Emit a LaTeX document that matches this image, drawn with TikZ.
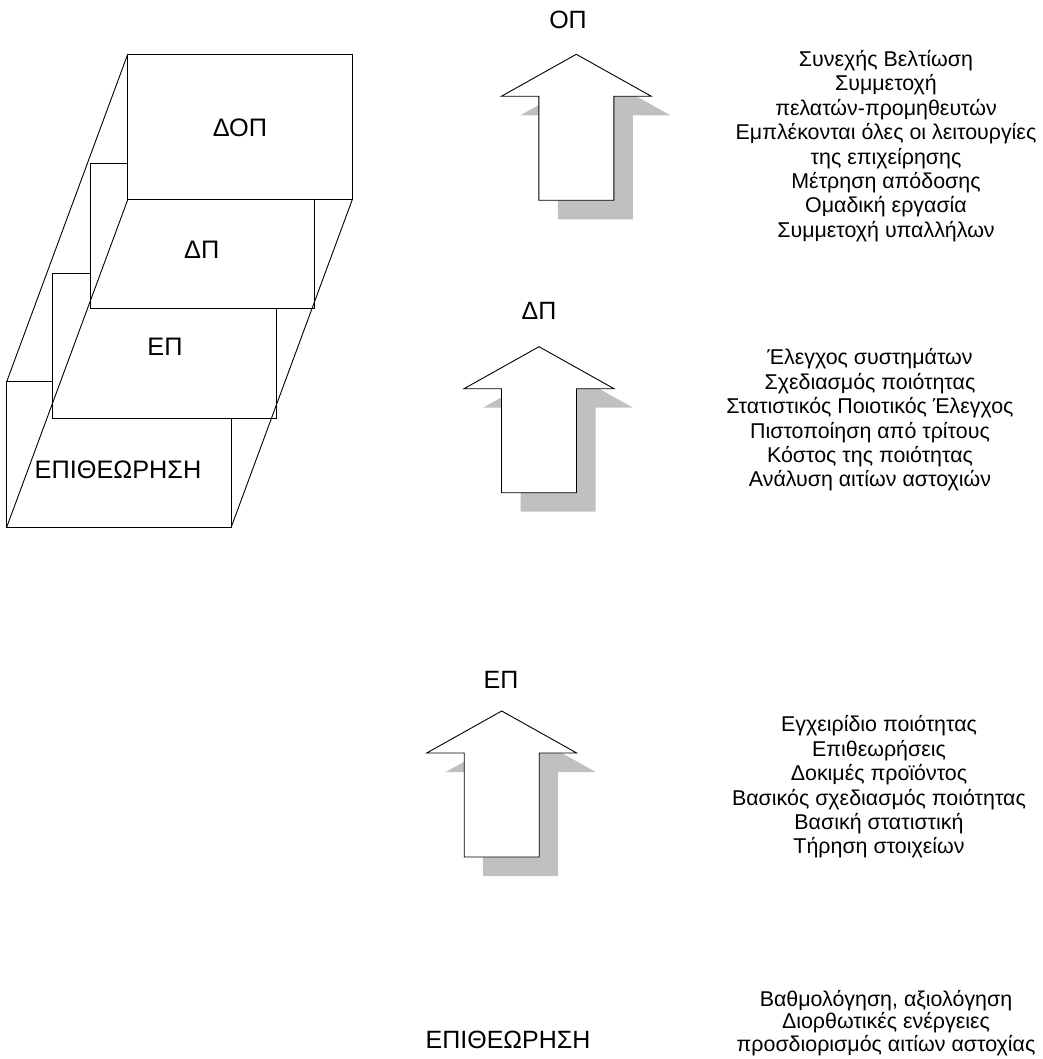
\documentclass[tikz,border=0pt]{standalone}
\usepackage{fontspec}
\setmainfont{Liberation Sans}
\definecolor{shadowgray}{RGB}{192,192,192}
\tikzset{
  level/.style={draw=black, fill=white, line width=0.9pt, minimum width=224.5pt,
    minimum height=145.5pt, inner sep=0pt, outer sep=0pt, anchor=north west},
  boxlabel/.style={font=\fontsize{25.3}{29}\selectfont},
  arrowlabel/.style={font=\fontsize{25}{29}\selectfont},
  listtext/.style={align=center, font=\fontsize{21.4}{24.4}\selectfont, inner sep=0pt},
  edge/.style={line width=0.9pt},
  pics/uparrow/.style={code={
    % gray drop shadow, shifted down and to the right
    \fill[shadowgray] (19,19) -- (94,61) -- (56.5,61) -- (56.5,165) -- (-18.5,165)
      -- (-18.5,61) -- (-56,61) -- cycle;
    % white block arrow pointing up
    \draw[fill=white, line width=0.9pt, line join=miter] (0,0) -- (75,42) -- (37.5,42)
      -- (37.5,146) -- (-37.5,146) -- (-37.5,42) -- (-75,42) -- cycle;
  }}
}
\begin{document}
\begin{tikzpicture}[x=1pt, y=-1pt]
\useasboundingbox (0,0) rectangle (1042,1059);

% stacked levels, lowest first
\node[level] (epi) at (6.7,381.7) {};
\node[level] (ep)  at (52.3,273.3) {};
\node[level] (dp)  at (90,163.3) {};
\node[level] (dop) at (127.7,54.3) {};

% edges of the slanted slab
\draw[edge] (epi.north west) -- (dop.north west);
\draw[edge] (epi.south west) -- (dop.south west);
\draw[edge] (epi.south east) -- (dop.south east);

\node[boxlabel] (ldop) at (240,128) {ΔΟΠ};
\node[boxlabel] (ldp)  at (201.7,250) {ΔΠ};
\node[boxlabel] (lep)  at (165,346.7) {ΕΠ};
\node[boxlabel] (lepi) at (118,470) {ΕΠΙΘΕΩΡΗΣΗ};

% block arrows between levels
\pic at (576.3,54.3) {uparrow};
\pic at (539,346.7) {uparrow};
\pic at (501.7,711) {uparrow};

\node[arrowlabel] (aop)  at (568,20) {ΟΠ};
\node[arrowlabel] (adp)  at (539,311) {ΔΠ};
\node[arrowlabel] (aep)  at (501,680) {ΕΠ};
\node[arrowlabel] (aepi) at (508,1040) {ΕΠΙΘΕΩΡΗΣΗ};

% characteristics of each level
\node[listtext] (t1) at (886,146) {Συνεχής Βελτίωση\\Συμμετοχή\\πελατών-προμηθευτών\\Εμπλέκονται όλες οι λειτουργίες\\της επιχείρησης\\Μέτρηση απόδοσης\\Ομαδική εργασία\\Συμμετοχή υπαλλήλων};
\node[listtext] (t2) at (870,420) {Έλεγχος συστημάτων\\Σχεδιασμός ποιότητας\\Στατιστικός Ποιοτικός Έλεγχος\\Πιστοποίηση από τρίτους\\Κόστος της ποιότητας\\Ανάλυση αιτίων αστοχιών};
\node[listtext] (t3) at (879,787) {Εγχειρίδιο ποιότητας\\Επιθεωρήσεις\\Δοκιμές προϊόντος\\Βασικός σχεδιασμός ποιότητας\\Βασική στατιστική\\Τήρηση στοιχείων};
\node[listtext, font=\fontsize{21.4}{22.2}\selectfont] (t4) at (886,1023) {Βαθμολόγηση, αξιολόγηση\\Διορθωτικές ενέργειες\\προσδιορισμός αιτίων αστοχίας};
\end{tikzpicture}
\end{document}
